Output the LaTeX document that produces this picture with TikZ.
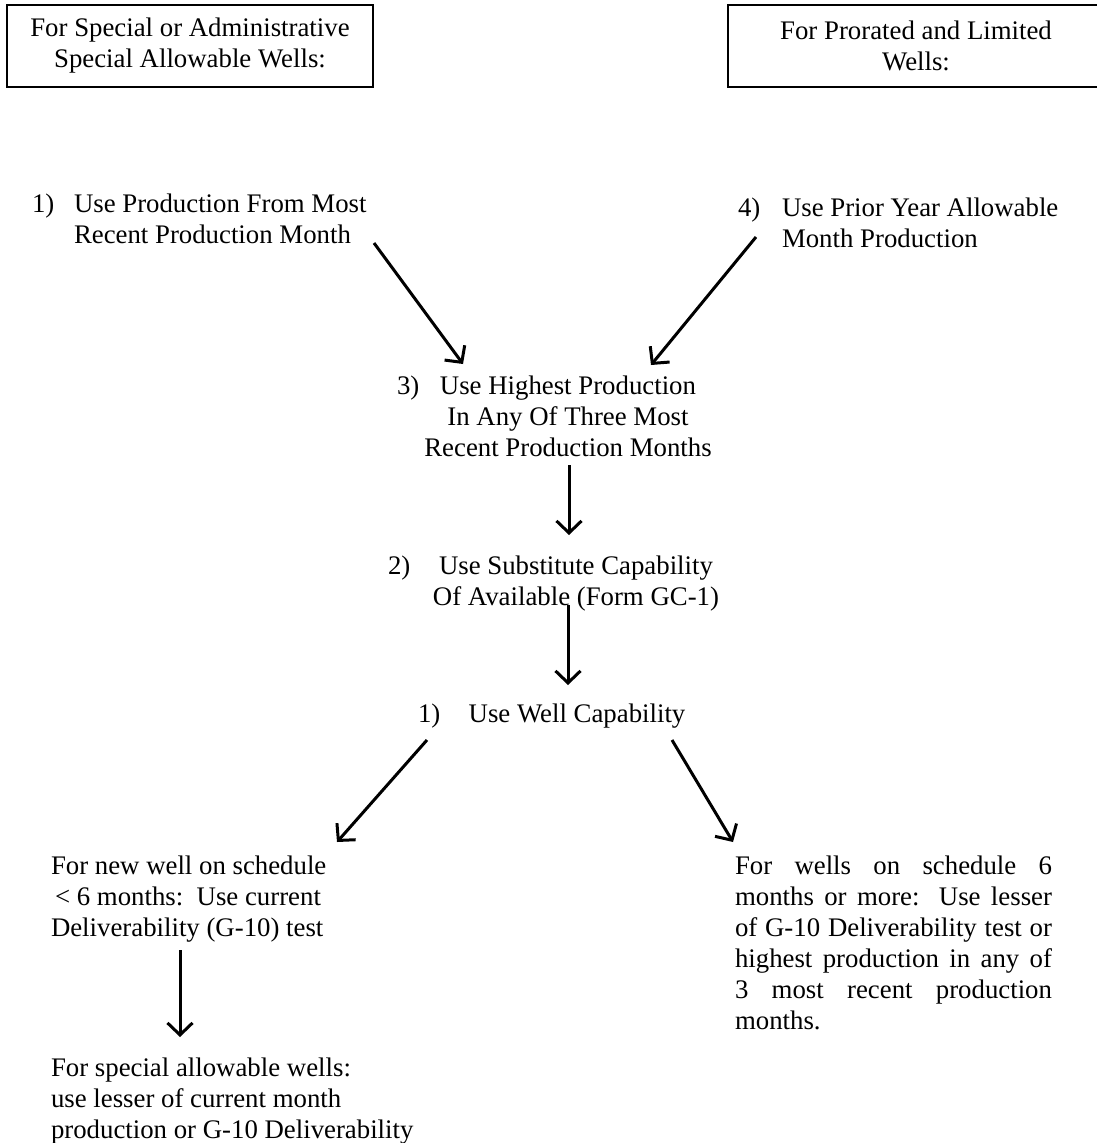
\documentclass[tikz,border=0pt]{standalone}
\usepackage{fontspec}
\setmainfont{Liberation Serif}
\usetikzlibrary{arrows.meta}
\begin{document}
\begin{tikzpicture}[x=1pt,y=-1pt,
  every node/.style={inner sep=0pt,outer sep=0pt,font=\fontsize{26.8}{31}\selectfont},
  hdr/.style={draw,line width=1.3pt,align=center,minimum height=82pt},
  lbl/.style={anchor=north west,align=left},
  ctr/.style={anchor=north,align=center},
  arr/.style={line width=3pt,-{Straight Barb[length=12pt,width=25pt]}}]
\useasboundingbox (0,0) rectangle (1097,1143);
\node[hdr,minimum width=366pt] (h1) at (190,46) {For Special or Administrative\\Special Allowable Wells:};
\node[hdr,minimum width=376pt] (h2) at (916,46) {For Prorated and Limited\\Wells:};
\node[lbl] (n1) at (32,194) {1)};
\node[lbl] (p1) at (74,194) {Use Production From Most\\Recent Production Month};
\node[lbl] (n4) at (738,198) {4)};
\node[lbl] (p4) at (782,198) {Use Prior Year Allowable\\Month Production};
\node[lbl] (n3) at (397,376) {3)};
\node[ctr] (p3) at (568,376) {Use Highest Production\\In Any Of Three Most\\Recent Production Months};
\node[lbl] (n2) at (388,556) {2)};
\node[ctr] (p2) at (576,556) {Use Substitute Capability\\Of Available (Form GC-1)};
\node[lbl] (nw) at (418,704) {1)};
\node[ctr] (pw) at (577,704) {Use Well Capability};
\node[lbl] (lt) at (51,856) {For new well on schedule\\\hspace*{4pt}< 6 months:\ \ Use current\\Deliverability (G-10) test};
\node[lbl] (bt) at (51,1058) {For special allowable wells:\\use lesser of current month\\production or G-10 Deliverability};
\node[lbl,text width=317pt] (rt) at (735,856) {For\hfill wells\hfill on\hfill schedule\hfill 6\\months\hfill or\hfill more:\ \hfill Use\hfill lesser\\of\hfill G-10\hfill Deliverability\hfill test\hfill or\\highest\hfill production\hfill in\hfill any\hfill of\\3\hfill most\hfill recent\hfill production\\months.};
\draw[arr] ([shift={(300,49)}]p1.north west) -- ([shift={(-105,-12)}]p3.north);
\draw[arr] ([shift={(-26,39)}]p4.north west) -- ([shift={(83,-11)}]p3.north);
\draw[arr] ([shift={(1,89)}]p3.north) -- ([shift={(-7,-21)}]p2.north);
\draw[arr] ([shift={(-8,49)}]p2.north) -- ([shift={(-9,-19)}]pw.north);
\draw[arr] ([shift={(9,36)}]nw.north west) -- ([shift={(286,-14)}]lt.north west);
\draw[arr] ([shift={(95,36)}]pw.north) -- ([shift={(-2,-14)}]rt.north west);
\draw[arr] ([shift={(129,94)}]lt.north west) -- ([shift={(129,-21)}]bt.north west);
\end{tikzpicture}
\end{document}
